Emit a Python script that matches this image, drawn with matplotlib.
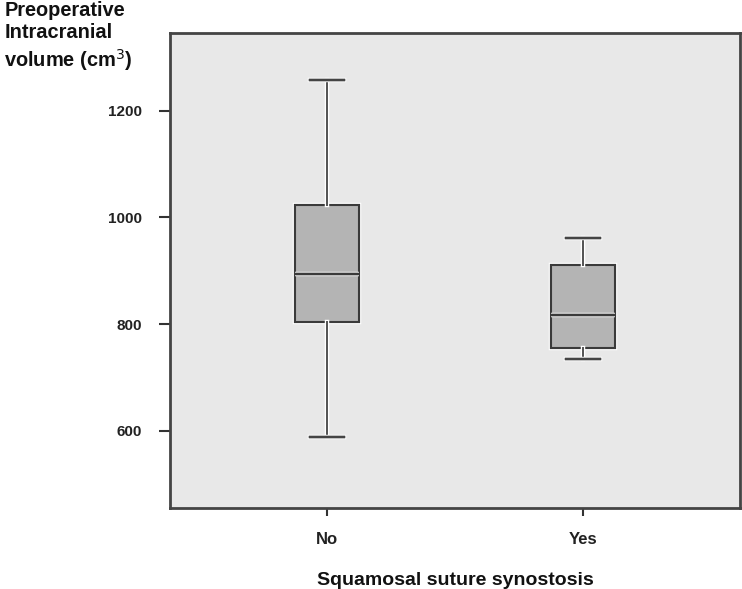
import matplotlib.pyplot as plt
import matplotlib.patheffects as pe

plt.rcParams["font.family"] = ["Liberation Sans", "DejaVu Sans"]

# values
groups = ["No", "Yes"]
whisker_low = [589, 734]
q1 = [804, 755]
medians = [893, 817]
q3 = [1023, 910]
whisker_high = [1258, 962]
y_ticks = [600, 800, 1000, 1200]

stats = []
for i, g in enumerate(groups):
    stats.append({
        "label": g,
        "whislo": whisker_low[i],
        "q1": q1[i],
        "med": medians[i],
        "q3": q3[i],
        "whishi": whisker_high[i],
        "fliers": [],
    })

fig = plt.figure(figsize=(7.42, 5.89), dpi=100)
ax = fig.add_axes([170 / 742, 1 - 508 / 589, 570 / 742, 475 / 589])
ax.set_facecolor("#e8e8e8")

halo = [pe.withStroke(linewidth=3.2, foreground="white")]
dark = "#3a3a3a"
bp = ax.bxp(
    stats, positions=[1, 2], widths=0.25, patch_artist=True, showfliers=False,
    boxprops=dict(facecolor="#b4b4b4", edgecolor=dark, linewidth=1.5),
    medianprops=dict(color=dark, linewidth=1.7),
    whiskerprops=dict(color="#555555", linewidth=1.3),
    capprops=dict(color="#444444", linewidth=1.7),
    capwidths=0.13,
)
for key in ["boxes", "medians", "whiskers", "caps"]:
    for art in bp[key]:
        art.set_path_effects(halo + [pe.Normal()])

ax.set_xlim(0.387, 2.613)
ax.set_ylim(455, 1346)
ax.set_yticks(y_ticks)
ax.set_xticks([1, 2])
ax.set_xticklabels(groups)

for s in ax.spines.values():
    s.set_color("#444444")
    s.set_linewidth(2)

ax.tick_params(axis="y", length=8, width=1.5, pad=12, color="#333333",
               labelsize=11)
ax.tick_params(axis="x", length=6, width=1.5, pad=11, color="#333333",
               labelsize=12)
for lab in ax.get_xticklabels() + ax.get_yticklabels():
    lab.set_fontweight("bold")
    lab.set_color("#222222")

ax.set_xlabel("Squamosal suture synostosis", fontsize=14, fontweight="bold",
              color="#111111", labelpad=18)

fig.text(0.006, 0.998, "Preoperative\nIntracranial\nvolume (cm$^3$)",
         ha="left", va="top", fontsize=14.4, fontweight="bold",
         color="#111111", linespacing=1.22)

fig.savefig("out.png", dpi=100)
